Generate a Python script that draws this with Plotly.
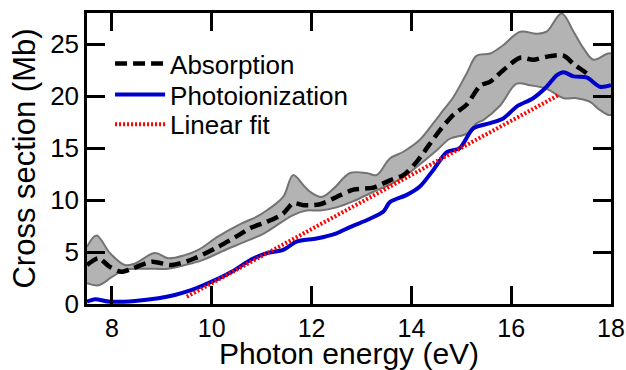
import plotly.graph_objects as go

# ---- data ----
abs_x = [7.5, 7.73, 7.95, 8.19, 8.4, 8.8, 9.2, 9.66, 10.13, 10.53, 10.77, 11.1, 11.43, 11.63,
         11.84, 12.17, 12.5, 12.84, 13.24, 13.57, 13.84, 14.11, 14.37, 14.57, 14.84, 15.11,
         15.38, 15.58, 15.84, 16.18, 16.44, 16.71, 17.05, 17.25, 17.51, 17.6]
abs_y = [3.75, 4.4, 3.6, 3.1, 3.4, 4.07, 3.75, 4.4, 5.5, 6.6, 7.3, 7.9, 8.7, 9.7,
         9.5, 9.6, 10.3, 11.0, 11.2, 11.9, 12.4, 13.7, 15.4, 16.7, 18.2, 19.2,
         21.0, 21.4, 22.5, 23.7, 23.5, 23.8, 23.9, 23.1, 22.2, 21.8]

upper_x = [7.5, 7.69, 7.96, 8.26, 8.46, 8.86, 9.13, 9.46, 9.73, 10.13, 10.6, 10.9, 11.1, 11.43,
           11.63, 11.84, 11.97, 12.2, 12.44, 12.77, 13.1, 13.3, 13.57, 13.84, 14.17, 14.44,
           14.64, 14.84, 15.11, 15.31, 15.58, 15.84, 16.18, 16.51, 16.71, 17.01, 17.25, 17.45,
           17.65, 18.0]
upper_y = [5.5, 6.6, 4.9, 3.75, 3.9, 4.9, 4.4, 4.7, 5.2, 6.5, 7.75, 8.4, 9.0, 10.3,
           12.4, 11.4, 10.8, 10.3, 11.1, 12.6, 12.6, 12.4, 14.0, 14.65, 15.8, 17.4,
           18.65, 19.9, 22.2, 23.9, 24.1, 24.9, 26.2, 26.0, 26.2, 27.95, 26.2, 24.6,
           23.5, 24.1]

lower_x = [7.5, 7.73, 8.0, 8.26, 8.66, 9.13, 9.46, 9.8, 10.27, 10.67, 11.05, 11.63, 11.9,
           12.17, 12.5, 12.84, 13.24, 13.57, 13.84, 14.11, 14.51, 14.77, 15.11, 15.31, 15.44,
           15.78, 16.11, 16.38, 16.71, 17.05, 17.31, 17.58, 17.78, 18.0]
lower_y = [2.0, 1.8, 2.6, 3.3, 3.4, 3.4, 3.75, 4.2, 5.2, 6.0, 6.8, 8.56, 9.0,
           9.0, 9.3, 9.9, 10.8, 11.5, 12.2, 13.2, 14.8, 15.9, 16.4, 17.4, 17.7,
           19.1, 21.2, 21.05, 20.7, 19.8, 19.8, 19.45, 18.65, 18.2]

photo_x = [7.5, 7.66, 7.96, 8.46, 8.93, 9.26, 9.6, 10.0, 10.4, 10.8, 11.1, 11.43, 11.7, 12.1,
           12.5, 12.77, 13.17, 13.44, 13.57, 13.91, 14.17, 14.44, 14.71, 14.97, 15.24, 15.58,
           15.84, 16.11, 16.44, 16.71, 16.91, 17.05, 17.25, 17.51, 17.78, 18.0]
photo_y = [0.22, 0.45, 0.22, 0.29, 0.55, 0.87, 1.35, 2.15, 3.1, 4.3, 4.9, 5.2, 6.0, 6.3,
           6.8, 7.4, 8.2, 8.9, 9.8, 10.5, 11.3, 12.9, 14.6, 15.0, 16.9, 17.4,
           17.85, 19.0, 19.8, 20.9, 22.0, 22.3, 21.9, 21.8, 20.9, 21.05]

fit_x = [9.5, 16.95]
fit_y = [0.7, 20.1]

x_ticks = [8, 10, 12, 14, 16, 18]
y_ticks = [0, 5, 10, 15, 20, 25]

FONT = "Liberation Sans, Arial, sans-serif"

fig = go.Figure()

# uncertainty band around the absorption curve
fig.add_trace(go.Scatter(
    x=upper_x + lower_x[::-1], y=upper_y + lower_y[::-1],
    fill="toself", fillcolor="rgb(179,179,179)",
    line=dict(color="rgb(115,115,115)", width=2, shape="spline", smoothing=1.0),
    mode="lines", showlegend=False, hoverinfo="skip"))

fig.add_trace(go.Scatter(
    x=abs_x, y=abs_y, mode="lines", name="Absorption", legend="legend",
    line=dict(color="black", width=4.5, dash="12px,6px", shape="spline", smoothing=0.8)))

fig.add_trace(go.Scatter(
    x=photo_x, y=photo_y, mode="lines", name="Photoionization", legend="legend2",
    line=dict(color="rgb(0,0,205)", width=4, shape="spline", smoothing=0.8)))

fig.add_trace(go.Scatter(
    x=fit_x, y=fit_y, mode="lines", name="Linear fit", legend="legend3",
    line=dict(color="rgb(255,0,0)", width=4, dash="2px,2px")))

axis_common = dict(
    automargin=False,
    showline=True, linecolor="black", linewidth=2.5, mirror="allticks",
    ticks="inside", ticklen=18, tickwidth=3, tickcolor="black",
    showgrid=False, zeroline=False,
)

leg_common = dict(x=0.044, xanchor="left", yanchor="middle",
                  bgcolor="rgba(0,0,0,0)", borderwidth=0, itemwidth=50,
                  font=dict(family=FONT, size=26, color="black"))

fig.update_layout(
    width=626, height=370,
    margin=dict(l=87, r=15, t=13, b=66),
    plot_bgcolor="white", paper_bgcolor="white",
    font=dict(family=FONT, color="black"),
    xaxis=dict(range=[7.5, 18], tickvals=x_ticks,
               tickfont=dict(family=FONT, size=25, color="black"),
               title=dict(text="Photon energy (eV)", font=dict(family=FONT, size=30), standoff=3),
               **axis_common),
    yaxis=dict(range=[0, 28], tickvals=y_ticks,
               tickfont=dict(family=FONT, size=26, color="black"),
               title=dict(text="Cross section (Mb)", font=dict(family=FONT, size=31), standoff=6),
               **axis_common),
    legend=dict(y=0.826, **leg_common),
    legend2=dict(y=0.720, **leg_common),
    legend3=dict(y=0.617, **leg_common),
    showlegend=True,
)

fig.write_html("out.html")
